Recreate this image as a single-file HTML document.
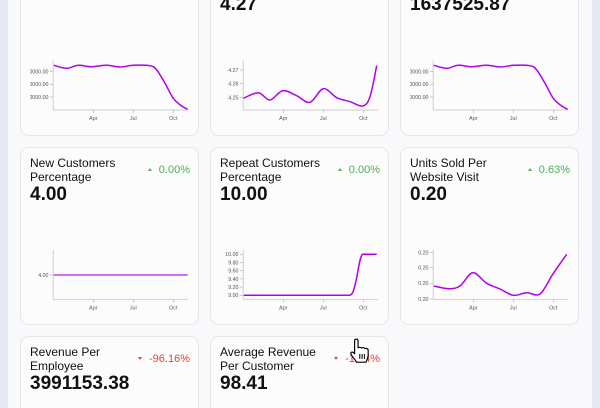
<!DOCTYPE html>
<html>
<head>
<meta charset="utf-8">
<style>
html{margin:0;padding:0;width:600px;height:408px;overflow:hidden;}
body{margin:0;padding:0;width:600px;height:408px;overflow:hidden;position:relative;background:#f9f9fb;font-family:"Liberation Sans",Arial,sans-serif;}
.strip{position:absolute;top:0;width:8px;height:408px;background:#e5e8f3;}
.card{position:absolute;width:177px;height:176px;border:1px solid #e6e6ea;border-radius:9px;background:#fcfcfd;box-sizing:content-box;overflow:hidden;}
.card.topc{top:0;height:135px;border-top:none;border-radius:0 0 9px 9px;}
.card.botc{top:336px;height:71px;border-bottom:none;border-radius:9px 9px 0 0;}
.title{position:absolute;left:9px;top:8px;font-size:12px;line-height:14px;color:#111;width:110px;}
.val{position:absolute;left:9px;top:36px;font-size:19px;line-height:22px;font-weight:bold;color:#111;white-space:nowrap;}
.topc .val{top:-6px;}
.pct{position:absolute;right:8px;top:15px;font-size:11px;line-height:14px;}
.up{color:#4caf50;}
.down{color:#e8453c;}
.tri{display:inline-block;width:0;height:0;margin-right:7px;vertical-align:2px;}
.up .tri{border-left:2.5px solid transparent;border-right:2.5px solid transparent;border-bottom:3px solid #4caf50;}
.down .tri{border-left:2.5px solid transparent;border-right:2.5px solid transparent;border-top:3px solid #e8453c;}
svg#charts{position:absolute;left:0;top:0;}
</style>
</head>
<body>
<div class="strip" style="left:0"></div>
<div class="strip" style="left:592px"></div>

<div class="card topc" style="left:20px;">
  <div class="val"></div>
</div>
<div class="card topc" style="left:210px;">
  <div class="val">4.27</div>
</div>
<div class="card topc" style="left:400px;">
  <div class="val">1637525.87</div>
</div>

<div class="card" style="left:20px;top:147px;">
  <div class="title">New Customers<br>Percentage</div>
  <div class="val">4.00</div>
  <div class="pct up"><span class="tri"></span>0.00%</div>
</div>
<div class="card" style="left:210px;top:147px;">
  <div class="title">Repeat Customers<br>Percentage</div>
  <div class="val">10.00</div>
  <div class="pct up"><span class="tri"></span>0.00%</div>
</div>
<div class="card" style="left:400px;top:147px;">
  <div class="title">Units Sold Per<br>Website Visit</div>
  <div class="val">0.20</div>
  <div class="pct up"><span class="tri"></span>0.63%</div>
</div>

<div class="card botc" style="left:20px;">
  <div class="title">Revenue Per<br>Employee</div>
  <div class="val">3991153.38</div>
  <div class="pct down"><span class="tri"></span>-96.16%</div>
</div>
<div class="card botc" style="left:210px;">
  <div class="title">Average Revenue<br>Per Customer</div>
  <div class="val">98.41</div>
  <div class="pct down"><span class="tri"></span>-1.34%</div>
</div>

<svg id="charts" width="600" height="408" viewBox="0 0 600 408" xmlns="http://www.w3.org/2000/svg">
  <defs>
    <clipPath id="c1"><rect x="30" y="0" width="165" height="140"/></clipPath>
    <clipPath id="c3"><rect x="410" y="0" width="165" height="140"/></clipPath>
  </defs>
  <g font-family="Liberation Sans, Arial, sans-serif" font-size="5.3" fill="#555">
    <!-- Chart 1 -->
    <g clip-path="url(#c1)">
      <line x1="53.3" y1="60.5" x2="53.3" y2="110" stroke="#d6d6da" stroke-width="1.2"/>
      <line x1="53.3" y1="110" x2="188" y2="110" stroke="#d6d6da" stroke-width="1.2"/>
      <g stroke="#aaa" stroke-width="0.6">
        <line x1="50" y1="71.7" x2="53" y2="71.7"/><line x1="50" y1="84.3" x2="53" y2="84.3"/><line x1="50" y1="97" x2="53" y2="97"/>
        <line x1="93.3" y1="110" x2="93.3" y2="113"/><line x1="133.3" y1="110" x2="133.3" y2="113"/><line x1="173.3" y1="110" x2="173.3" y2="113"/>
      </g>
      <g text-anchor="end">
        <text x="48.5" y="73.6">1650000.00</text><text x="48.5" y="86.2">1640000.00</text><text x="48.5" y="98.9">1630000.00</text>
      </g>
      <g text-anchor="middle">
        <text x="93.3" y="120.2">Apr</text><text x="133.3" y="120.2">Jul</text><text x="173.3" y="120.2">Oct</text>
      </g>
      <path class="sm" data-p="53.8,65.3 66.7,68.3 78.3,65.3 91.7,66.7 106.7,65.3 120,67 133.3,65.3 150,65.7 156.7,70 165,83.3 173.3,98.3 181.7,106 187.7,109.3" d="M53.8,65.3 L66.7,68.3 L78.3,65.3 L91.7,66.7 L106.7,65.3 L120,67 L133.3,65.3 L150,65.7 L156.7,70 L165,83.3 L173.3,98.3 L181.7,106 L187.7,109.3" fill="none" stroke="#b000ee" stroke-width="1.5"/>
    </g>
    <!-- Chart 2 -->
    <line x1="243.3" y1="60.5" x2="243.3" y2="110" stroke="#d6d6da" stroke-width="1.2"/>
    <line x1="243.3" y1="110" x2="378" y2="110" stroke="#d6d6da" stroke-width="1.2"/>
    <g stroke="#aaa" stroke-width="0.6">
      <line x1="240" y1="70" x2="243" y2="70"/><line x1="240" y1="83.7" x2="243" y2="83.7"/><line x1="240" y1="97.7" x2="243" y2="97.7"/>
      <line x1="283.3" y1="110" x2="283.3" y2="113"/><line x1="323.3" y1="110" x2="323.3" y2="113"/><line x1="363.3" y1="110" x2="363.3" y2="113"/>
    </g>
    <g text-anchor="end">
      <text x="238.5" y="71.9">4.27</text><text x="238.5" y="85.6">4.26</text><text x="238.5" y="99.6">4.25</text>
    </g>
    <g text-anchor="middle">
      <text x="283.3" y="120.2">Apr</text><text x="323.3" y="120.2">Jul</text><text x="363.3" y="120.2">Oct</text>
    </g>
    <path class="sm" data-p="243.5,98.3 258.3,92.7 270,100 282.7,90.7 296.7,95.7 310,102.3 323.3,88.7 336.7,97.7 350,101.7 362.7,106 370,96.7 376.7,65.7" d="M243.5,98.3 L258.3,92.7 L270,100 L282.7,90.7 L296.7,95.7 L310,102.3 L323.3,88.7 L336.7,97.7 L350,101.7 L362.7,106 L370,96.7 L376.7,65.7" fill="none" stroke="#b000ee" stroke-width="1.5"/>
    <!-- Chart 3 -->
    <g clip-path="url(#c3)">
      <line x1="433.3" y1="60.5" x2="433.3" y2="110" stroke="#d6d6da" stroke-width="1.2"/>
      <line x1="433.3" y1="110" x2="568" y2="110" stroke="#d6d6da" stroke-width="1.2"/>
      <g stroke="#aaa" stroke-width="0.6">
        <line x1="430" y1="71.7" x2="433" y2="71.7"/><line x1="430" y1="84.3" x2="433" y2="84.3"/><line x1="430" y1="97" x2="433" y2="97"/>
        <line x1="473.3" y1="110" x2="473.3" y2="113"/><line x1="513.3" y1="110" x2="513.3" y2="113"/><line x1="553.3" y1="110" x2="553.3" y2="113"/>
      </g>
      <g text-anchor="end">
        <text x="428.5" y="73.6">1650000.00</text><text x="428.5" y="86.2">1640000.00</text><text x="428.5" y="98.9">1630000.00</text>
      </g>
      <g text-anchor="middle">
        <text x="473.3" y="120.2">Apr</text><text x="513.3" y="120.2">Jul</text><text x="553.3" y="120.2">Oct</text>
      </g>
      <path class="sm" data-p="433.8,65.3 446.7,68.3 458.3,65.3 471.7,66.7 486.7,65.3 500,67 513.3,65.3 530,65.7 536.7,70 545,83.3 553.3,98.3 561.7,106 567.7,109.3" d="M433.8,65.3 L446.7,68.3 L458.3,65.3 L471.7,66.7 L486.7,65.3 L500,67 L513.3,65.3 L530,65.7 L536.7,70 L545,83.3 L553.3,98.3 L561.7,106 L567.7,109.3" fill="none" stroke="#b000ee" stroke-width="1.5"/>
    </g>
    <!-- Chart 4 -->
    <line x1="53.3" y1="250" x2="53.3" y2="299.5" stroke="#d6d6da" stroke-width="1.2"/>
    <line x1="53.3" y1="299.5" x2="188" y2="299.5" stroke="#d6d6da" stroke-width="1.2"/>
    <g stroke="#aaa" stroke-width="0.6">
      <line x1="50" y1="275" x2="53" y2="275"/>
      <line x1="93.3" y1="299.5" x2="93.3" y2="302.5"/><line x1="133.3" y1="299.5" x2="133.3" y2="302.5"/><line x1="173.3" y1="299.5" x2="173.3" y2="302.5"/>
    </g>
    <text x="48.5" y="276.9" text-anchor="end">4.00</text>
    <g text-anchor="middle">
      <text x="93.3" y="309.7">Apr</text><text x="133.3" y="309.7">Jul</text><text x="173.3" y="309.7">Oct</text>
    </g>
    <line x1="53.8" y1="275" x2="187.7" y2="275" stroke="#c040ee" stroke-width="1.5"/>
    <!-- Chart 5 -->
    <line x1="243.3" y1="250" x2="243.3" y2="299.5" stroke="#d6d6da" stroke-width="1.2"/>
    <line x1="243.3" y1="299.5" x2="378" y2="299.5" stroke="#d6d6da" stroke-width="1.2"/>
    <g stroke="#aaa" stroke-width="0.6">
      <line x1="240" y1="254.3" x2="243" y2="254.3"/><line x1="240" y1="262.5" x2="243" y2="262.5"/><line x1="240" y1="270.7" x2="243" y2="270.7"/><line x1="240" y1="278.9" x2="243" y2="278.9"/><line x1="240" y1="287.1" x2="243" y2="287.1"/><line x1="240" y1="295.3" x2="243" y2="295.3"/>
      <line x1="283.3" y1="299.5" x2="283.3" y2="302.5"/><line x1="323.3" y1="299.5" x2="323.3" y2="302.5"/><line x1="363.3" y1="299.5" x2="363.3" y2="302.5"/>
    </g>
    <g text-anchor="end">
      <text x="238.5" y="256.2">10.00</text><text x="238.5" y="264.4">9.80</text><text x="238.5" y="272.6">9.60</text><text x="238.5" y="280.8">9.40</text><text x="238.5" y="289">9.20</text><text x="238.5" y="297.2">9.00</text>
    </g>
    <g text-anchor="middle">
      <text x="283.3" y="309.7">Apr</text><text x="323.3" y="309.7">Jul</text><text x="363.3" y="309.7">Oct</text>
    </g>
    <path d="M243.8,295.3 L349.5,295.3 C352.5,295.3 354,290 356,281 C358.5,269 360,256 362.5,254.3 L376.7,254.3" fill="none" stroke="#b000ee" stroke-width="1.5"/>
    <!-- Chart 6 -->
    <line x1="433.3" y1="250" x2="433.3" y2="299.5" stroke="#d6d6da" stroke-width="1.2"/>
    <line x1="433.3" y1="299.5" x2="568" y2="299.5" stroke="#d6d6da" stroke-width="1.2"/>
    <g stroke="#aaa" stroke-width="0.6">
      <line x1="430" y1="252.7" x2="433" y2="252.7"/><line x1="430" y1="267.7" x2="433" y2="267.7"/><line x1="430" y1="283.3" x2="433" y2="283.3"/><line x1="430" y1="299" x2="433" y2="299"/>
      <line x1="473.3" y1="299.5" x2="473.3" y2="302.5"/><line x1="513.3" y1="299.5" x2="513.3" y2="302.5"/><line x1="553.3" y1="299.5" x2="553.3" y2="302.5"/>
    </g>
    <g text-anchor="end">
      <text x="428.5" y="254.6">0.20</text><text x="428.5" y="269.6">0.20</text><text x="428.5" y="285.2">0.20</text><text x="428.5" y="300.9">0.20</text>
    </g>
    <g text-anchor="middle">
      <text x="473.3" y="309.7">Apr</text><text x="513.3" y="309.7">Jul</text><text x="553.3" y="309.7">Oct</text>
    </g>
    <path class="sm" data-p="433.8,286 448.3,288.7 460,286 472.7,272.7 486.7,283.3 500,289 513.3,295.3 526.7,292.7 540,294 552.7,274.3 566.7,254.3" d="M433.8,286 L448.3,288.7 L460,286 L472.7,272.7 L486.7,283.3 L500,289 L513.3,295.3 L526.7,292.7 L540,294 L552.7,274.3 L566.7,254.3" fill="none" stroke="#b000ee" stroke-width="1.5"/>
  </g>
  <!-- cursor -->
  <g transform="translate(350,338.5) scale(1.15,1.1)">
    <path d="M5.5,0.5 C6.5,0.5 7,1 7,2 L7,8.5 C7.5,7.8 9.5,7.8 10,8.8 C10.5,8 12.5,8 13,9.3 C13.5,8.7 15.5,8.8 15.8,10.5 L15.8,15 C15.8,18 14.5,19.5 14,21.5 L5.5,21.5 C5,19.5 2,17 0.8,14 C0.3,12.8 1.5,11.8 2.8,12.6 L4,13.8 L4,2 C4,1 4.5,0.5 5.5,0.5 Z" fill="#fff" stroke="#000" stroke-width="1" stroke-linejoin="round"/>
    <g stroke="#000" stroke-width="0.9">
      <line x1="8.5" y1="14" x2="8.5" y2="18.5"/><line x1="10.5" y1="14" x2="10.5" y2="18.5"/><line x1="12.5" y1="14" x2="12.5" y2="18.5"/>
    </g>
  </g>
</svg>
<script>
document.querySelectorAll('path.sm').forEach(function(p){
  var pts=p.getAttribute('data-p').split(' ').map(function(s){return s.split(',').map(Number);});
  var d='M'+pts[0][0]+','+pts[0][1];
  for(var i=0;i<pts.length-1;i++){
    var p0=pts[i-1]||pts[i],p1=pts[i],p2=pts[i+1],p3=pts[i+2]||p2;
    var c1x=p1[0]+(p2[0]-p0[0])/6,c1y=p1[1]+(p2[1]-p0[1])/6;
    var c2x=p2[0]-(p3[0]-p1[0])/6,c2y=p2[1]-(p3[1]-p1[1])/6;
    d+=' C'+c1x.toFixed(2)+','+c1y.toFixed(2)+' '+c2x.toFixed(2)+','+c2y.toFixed(2)+' '+p2[0]+','+p2[1];
  }
  p.setAttribute('d',d);
});
</script>
</body>
</html>
